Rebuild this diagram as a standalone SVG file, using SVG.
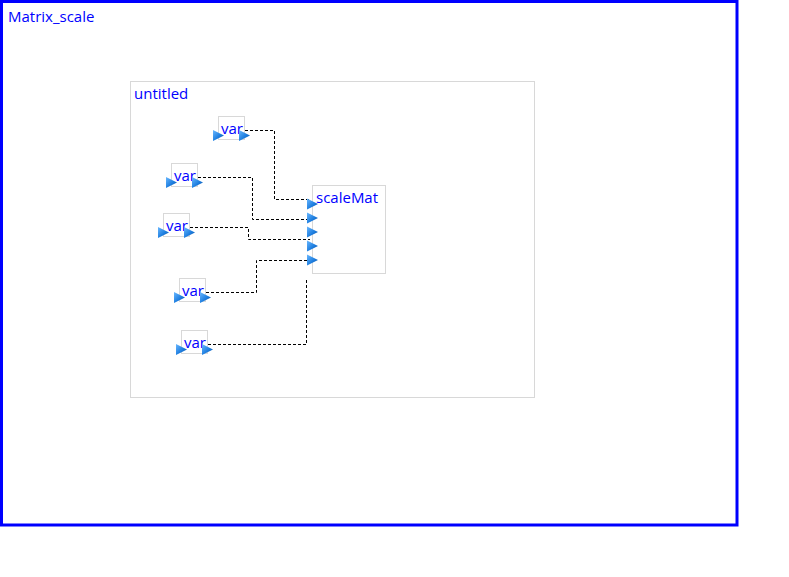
<svg xmlns="http://www.w3.org/2000/svg" width="789" height="577" viewBox="0 0 789 577">
  <defs>
    <linearGradient id="portFill" x1="0" y1="0" x2="1" y2="1">
      <stop offset="0" stop-color="#6ab8ff"/>
      <stop offset="0.55" stop-color="#1f7fe0"/>
      <stop offset="1" stop-color="#0b4f9e"/>
    </linearGradient>
    <path id="port" d="M0,0 L11,5.5 L0,11 Z" fill="url(#portFill)"/>
  </defs>
  <style>
    .lbl { font-family: "Open Sans", "DejaVu Sans", sans-serif; font-size: 15px; fill: #0000ff; }
    .box { fill: #ffffff; stroke: #d8d8d8; stroke-width: 1; }
    .wire { fill: none; stroke: #000000; stroke-width: 1; stroke-dasharray: 3 2; }
  </style>
  <rect width="789" height="577" fill="#ffffff"/>

  <g id="Matrix_scale">
    <rect x="1.5" y="1.5" width="735.5" height="523.5" fill="none" stroke="#0000ff" stroke-width="3"/>
    <text class="lbl" x="8" y="22">Matrix_scale</text>
  </g>

  <g id="untitled">
    <rect class="box" x="130.5" y="81.5" width="404" height="316"/>
    <text class="lbl" x="134" y="99">untitled</text>
  </g>

  <g id="connectors">
    <polyline class="wire" points="245,130.5 274.5,130.5 274.5,199.5 310,199.5"/>
    <polyline class="wire" points="198,177.5 252.5,177.5 252.5,219.5 310,219.5"/>
    <polyline class="wire" points="190,227.5 248.5,227.5 248.5,239.5 310,239.5"/>
    <polyline class="wire" points="206,292.5 256.5,292.5 256.5,260.5 310,260.5"/>
    <polyline class="wire" points="208,344.5 306.5,344.5 306.5,279"/>
  </g>

  <g id="scaleMat">
    <rect class="box" x="312.5" y="185.5" width="73" height="88"/>
    <text class="lbl" x="316" y="203">scaleMat</text>
    <use href="#port" x="307" y="198.5"/>
    <use href="#port" x="307" y="212.5"/>
    <use href="#port" x="307" y="226.5"/>
    <use href="#port" x="307" y="240.5"/>
    <use href="#port" x="307" y="254.5"/>
  </g>

  <g id="var1">
    <rect class="box" x="218.5" y="116.5" width="26" height="23"/>
    <text class="lbl" x="221" y="134">var</text>
    <use href="#port" x="213" y="130"/>
    <use href="#port" x="239" y="130"/>
  </g>

  <g id="var2">
    <rect class="box" x="171.5" y="163.5" width="26" height="23"/>
    <text class="lbl" x="174" y="181">var</text>
    <use href="#port" x="166" y="177"/>
    <use href="#port" x="192" y="177"/>
  </g>

  <g id="var3">
    <rect class="box" x="163.5" y="213.5" width="26" height="23"/>
    <text class="lbl" x="166" y="231">var</text>
    <use href="#port" x="158" y="227"/>
    <use href="#port" x="184" y="227"/>
  </g>

  <g id="var4">
    <rect class="box" x="179.5" y="278.5" width="26" height="23"/>
    <text class="lbl" x="182" y="296">var</text>
    <use href="#port" x="174" y="292"/>
    <use href="#port" x="200" y="292"/>
  </g>

  <g id="var5">
    <rect class="box" x="181.5" y="330.5" width="26" height="23"/>
    <text class="lbl" x="184" y="348">var</text>
    <use href="#port" x="176" y="344"/>
    <use href="#port" x="202" y="344"/>
  </g>
</svg>
